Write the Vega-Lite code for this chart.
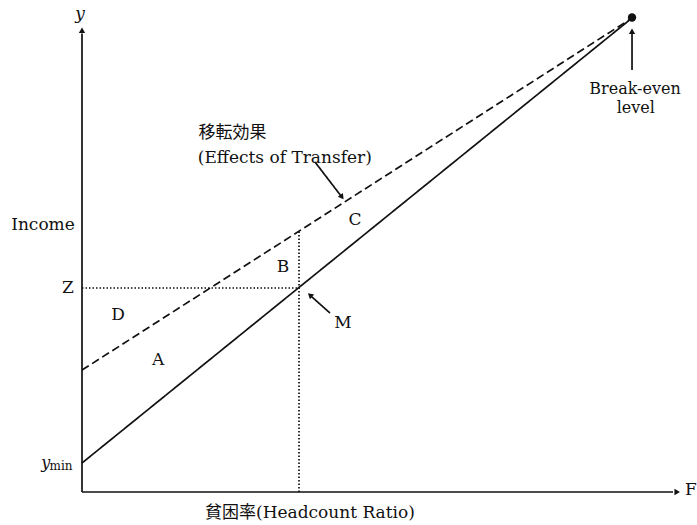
{
  "$schema": "https://vega.github.io/schema/vega-lite/v6.json",
  "width": 600,
  "height": 480,
  "autosize": {"type": "none"},
  "padding": {"left": 82, "top": 12, "right": 15, "bottom": 33},
  "background": "white",
  "config": {"view": {"stroke": null}, "text": {"font": "DejaVu Serif, Noto Sans CJK JP", "color": "#111"}},
  "datasets": {
    "segs": [
      {"id": "yaxis", "style": "axis", "o": 0, "x": 0, "y": 0},
      {"id": "yaxis", "style": "axis", "o": 1, "x": 0, "y": 95.5},
      {"id": "xaxis", "style": "axis", "o": 0, "x": 0, "y": 0},
      {"id": "xaxis", "style": "axis", "o": 1, "x": 98.5, "y": 0},
      {"id": "pre", "style": "solid", "o": 0, "x": 0, "y": 6.04},
      {"id": "pre", "style": "solid", "o": 1, "x": 91.67, "y": 98.75},
      {"id": "post", "style": "dashed", "o": 0, "x": 0, "y": 25.4},
      {"id": "post", "style": "dashed", "o": 1, "x": 91.67, "y": 98.75},
      {"id": "zline", "style": "dotted", "o": 0, "x": 0, "y": 42.5},
      {"id": "zline", "style": "dotted", "o": 1, "x": 36.17, "y": 42.5},
      {"id": "vline", "style": "dotted", "o": 0, "x": 36.17, "y": 0},
      {"id": "vline", "style": "dotted", "o": 1, "x": 36.17, "y": 54.3},
      {"id": "arrT", "style": "thin", "o": 0, "x": 38.83, "y": 68.75},
      {"id": "arrT", "style": "thin", "o": 1, "x": 43.4, "y": 61.3},
      {"id": "arrM", "style": "thin", "o": 0, "x": 41.33, "y": 37.29},
      {"id": "arrM", "style": "thin", "o": 1, "x": 37.9, "y": 41.1},
      {"id": "arrB", "style": "thin", "o": 0, "x": 91.67, "y": 87.92},
      {"id": "arrB", "style": "thin", "o": 1, "x": 91.67, "y": 95.8}
    ],
    "heads": [
      {"x": 0, "y": 96.2, "shape": "triangle-up", "angle": 0},
      {"x": 99.2, "y": 0, "shape": "triangle-up", "angle": 90},
      {"x": 43.33, "y": 61.46, "shape": "triangle-up", "angle": 143.6},
      {"x": 38.0, "y": 41.04, "shape": "triangle-up", "angle": 312},
      {"x": 91.67, "y": 96.0, "shape": "triangle-up", "angle": 0}
    ],
    "dots": [
      {"x": 91.67, "y": 98.85}
    ],
    "labels": [
      {"g": "c16", "t": "Z", "x": -2.33, "y": 42.5},
      {"g": "c16", "t": "D", "x": 6, "y": 36.88},
      {"g": "c16", "t": "A", "x": 12.67, "y": 27.5},
      {"g": "c16", "t": "B", "x": 33.5, "y": 46.88},
      {"g": "c16", "t": "C", "x": 45.5, "y": 56.67},
      {"g": "c16", "t": "M", "x": 43.5, "y": 35.21},
      {"g": "c16", "t": "F", "x": 101.5, "y": 0.4},
      {"g": "l16", "t": "Income", "x": -11.8, "y": 55.63},
      {"g": "l16", "t": "移転効果", "x": 19.4, "y": 74.79},
      {"g": "l16", "t": "(Effects of Transfer)", "x": 19.3, "y": 69.58},
      {"g": "l16", "t": "貧困率(Headcount Ratio)", "x": 20.5, "y": -4.4},
      {"g": "c14", "t": "Break-even", "x": 92.17, "y": 84.0},
      {"g": "c14", "t": "level", "x": 92.3, "y": 79.9},
      {"g": "yi", "t": "y", "x": -0.33, "y": 99.6},
      {"g": "yr", "t": "y", "x": -5.3, "y": 6.04},
      {"g": "min", "t": "min", "x": -5.4, "y": 5.5}
    ]
  },
  "encoding": {
    "x": {"field": "x", "type": "quantitative", "scale": {"domain": [0, 100], "nice": false, "zero": false}, "axis": null},
    "y": {"field": "y", "type": "quantitative", "scale": {"domain": [0, 100], "nice": false, "zero": false}, "axis": null}
  },
  "layer": [
    {
      "data": {"name": "segs"},
      "mark": {"type": "line", "color": "#111", "clip": false},
      "encoding": {
        "detail": {"field": "id"},
        "order": {"field": "o", "type": "quantitative"},
        "strokeDash": {"field": "style", "type": "nominal", "scale": {"domain": ["axis", "solid", "dashed", "dotted", "thin"], "range": [[1, 0], [1, 0], [8, 4], [1.5, 2], [1, 0]]}, "legend": null},
        "strokeWidth": {"field": "style", "type": "nominal", "scale": {"domain": ["axis", "solid", "dashed", "dotted", "thin"], "range": [1.7, 1.7, 1.7, 1.2, 1.2]}, "legend": null}
      }
    },
    {
      "data": {"name": "heads"},
      "mark": {"type": "point", "filled": true, "color": "#111", "opacity": 1, "size": 40, "clip": false},
      "encoding": {
        "shape": {"field": "shape", "type": "nominal", "scale": null},
        "angle": {"field": "angle", "type": "quantitative", "scale": null}
      }
    },
    {
      "data": {"name": "dots"},
      "mark": {"type": "circle", "color": "#111", "opacity": 1, "size": 70, "clip": false}
    },
    {
      "data": {"name": "labels"},
      "transform": [{"filter": "datum.g == 'c16'"}],
      "mark": {"type": "text", "fontSize": 17, "align": "center", "baseline": "middle"},
      "encoding": {"text": {"field": "t"}}
    },
    {
      "data": {"name": "labels"},
      "transform": [{"filter": "datum.g == 'l16'"}],
      "mark": {"type": "text", "fontSize": 17, "align": "left", "baseline": "middle"},
      "encoding": {"text": {"field": "t"}}
    },
    {
      "data": {"name": "labels"},
      "transform": [{"filter": "datum.g == 'c14'"}],
      "mark": {"type": "text", "fontSize": 16, "align": "center", "baseline": "middle"},
      "encoding": {"text": {"field": "t"}}
    },
    {
      "data": {"name": "labels"},
      "transform": [{"filter": "datum.g == 'yi'"}],
      "mark": {"type": "text", "fontSize": 17, "fontStyle": "italic", "align": "center", "baseline": "middle"},
      "encoding": {"text": {"field": "t"}}
    },
    {
      "data": {"name": "labels"},
      "transform": [{"filter": "datum.g == 'yr'"}],
      "mark": {"type": "text", "fontSize": 16, "fontStyle": "italic", "align": "right", "baseline": "middle"},
      "encoding": {"text": {"field": "t"}}
    },
    {
      "data": {"name": "labels"},
      "transform": [{"filter": "datum.g == 'min'"}],
      "mark": {"type": "text", "fontSize": 12, "align": "left", "baseline": "middle"},
      "encoding": {"text": {"field": "t"}}
    }
  ]
}
